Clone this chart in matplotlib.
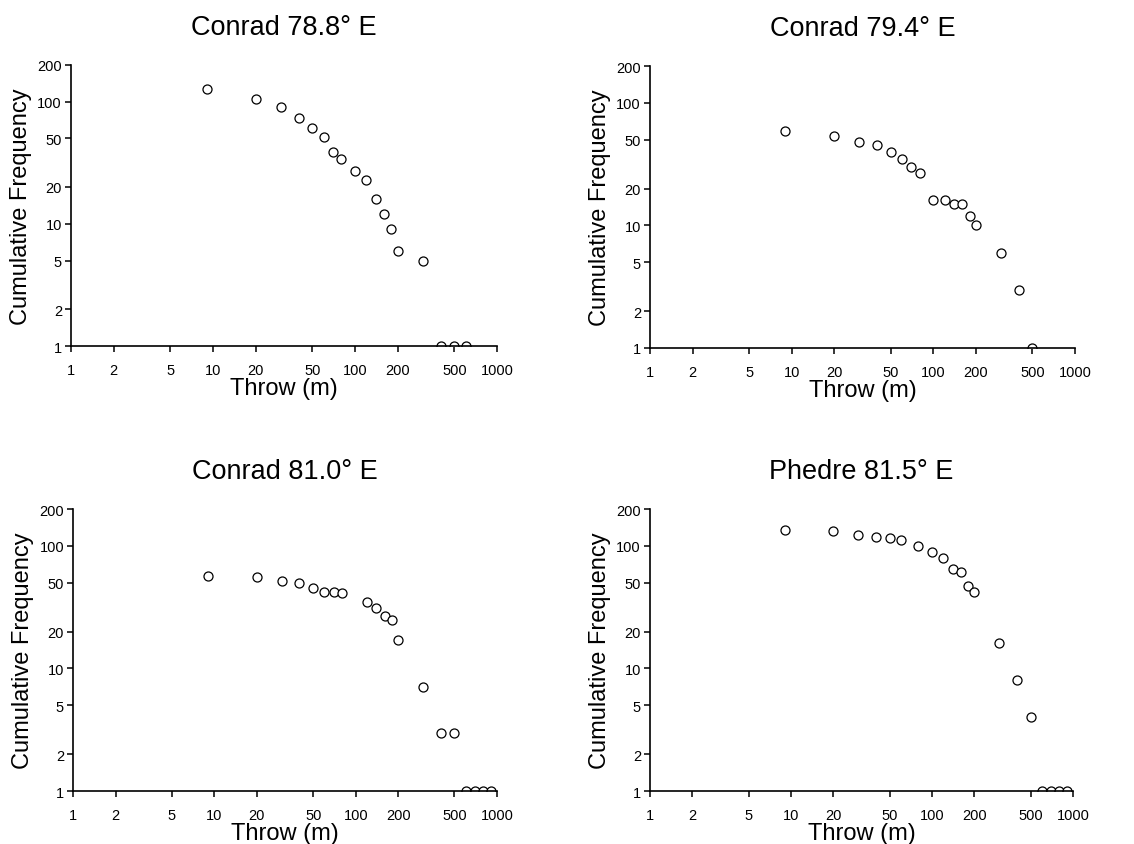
import matplotlib
matplotlib.use('Agg')
import matplotlib.pyplot as plt
from matplotlib.ticker import FixedLocator, FixedFormatter, NullLocator

plt.rcParams['font.family'] = ['Liberation Sans', 'DejaVu Sans']

# throw (m) and cumulative frequency for each section
titles = ['Conrad 78.8° E', 'Conrad 79.4° E', 'Conrad 81.0° E', 'Phedre 81.5° E']

throw_788 = [9, 20, 30, 40, 50, 60, 70, 80, 100, 120, 140, 160, 180, 200, 300, 400, 500, 600]
freq_788 = [126, 105, 90, 74, 61, 51, 39, 34, 27, 23, 16, 12, 9, 6, 5, 1, 1, 1]

throw_794 = [9, 20, 30, 40, 50, 60, 70, 80, 100, 120, 140, 160, 180, 200, 300, 400, 500]
freq_794 = [59, 54, 48, 45, 40, 35, 30, 27, 16, 16, 15, 15, 12, 10, 6, 3, 1]

throw_810 = [9, 20, 30, 40, 50, 60, 70, 80, 120, 140, 160, 180, 200, 300, 400, 500, 600, 700, 800, 900]
freq_810 = [57, 56, 52, 50, 45, 42, 42, 41, 35, 31, 27, 25, 17, 7, 3, 3, 1, 1, 1, 1]

throw_815 = [9, 20, 30, 40, 50, 60, 80, 100, 120, 140, 160, 180, 200, 300, 400, 500, 600, 700, 800, 900]
freq_815 = [135, 133, 123, 118, 117, 112, 100, 89, 80, 65, 61, 47, 42, 16, 8, 4, 1, 1, 1, 1]

xticks = [1, 2, 5, 10, 20, 50, 100, 200, 500, 1000]
yticks = [1, 2, 5, 10, 20, 50, 100, 200]

data = [(throw_788, freq_788), (throw_794, freq_794),
        (throw_810, freq_810), (throw_815, freq_815)]

# axes rectangles in figure fraction
rects = [[0.0626, 0.5893, 0.3757, 0.3329],
         [0.5732, 0.5870, 0.3748, 0.3337],
         [0.0644, 0.0627, 0.3739, 0.3337],
         [0.5732, 0.0627, 0.3730, 0.3337]]

fig = plt.figure(figsize=(11.34, 8.45), dpi=100)

for i in range(4):
    ax = fig.add_axes(rects[i])
    x, y = data[i]
    ax.plot(x, y, 'o', mfc='white', mec='black', ms=6.5, mew=0.9, ls='none')
    ax.set_xscale('log')
    ax.set_yscale('log')
    ax.set_xlim(1, 1000)
    ax.set_ylim(1, 200)

    ax.xaxis.set_major_locator(FixedLocator(xticks))
    ax.xaxis.set_major_formatter(FixedFormatter([str(t) for t in xticks]))
    ax.xaxis.set_minor_locator(NullLocator())
    ax.yaxis.set_major_locator(FixedLocator(yticks))
    ax.yaxis.set_major_formatter(FixedFormatter([str(t) for t in yticks]))
    ax.yaxis.set_minor_locator(NullLocator())

    ax.spines['top'].set_visible(False)
    ax.spines['right'].set_visible(False)
    ax.spines['left'].set_linewidth(1.2)
    ax.spines['bottom'].set_linewidth(1.2)
    ax.tick_params(axis='x', direction='out', length=4.5, width=1.1, pad=8, labelsize=10.5)
    ax.tick_params(axis='y', direction='out', length=4.5, width=1.1, pad=2, labelsize=10.5)

    ax.set_xlabel('Throw (m)', fontsize=17, labelpad=0)
    ax.set_ylabel('Cumulative Frequency', fontsize=17, labelpad=4)
    ax.set_title(titles[i], fontsize=19.5, pad=22)

plt.savefig('out.png', dpi=100)
